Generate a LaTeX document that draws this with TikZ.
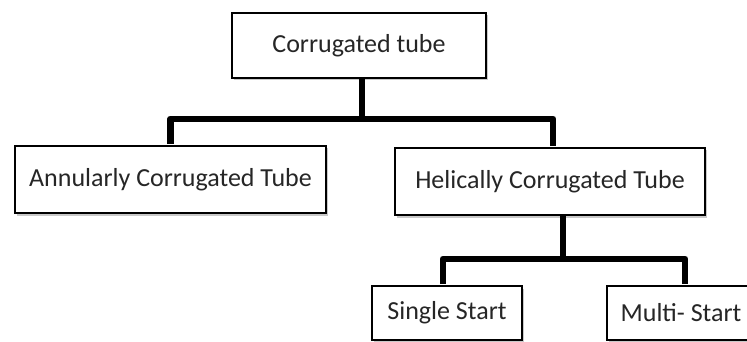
\documentclass[tikz,border=0pt]{standalone}
\usepackage{fontspec}
\setmainfont{Carlito}
\usetikzlibrary{shadows}
\begin{document}
\begin{tikzpicture}[x=1pt,y=-1pt,
  box/.style={draw=black,line width=1.6pt,fill=white,rectangle,inner sep=0pt,
    font=\fontsize{26}{30}\selectfont,text=black!85,
    drop shadow={shadow xshift=2pt,shadow yshift=-2.5pt,opacity=0.35,fill=black!60}},
  conn/.style={line width=6.5pt,line join=round,draw=black}]
\clip (0,0) rectangle (747,342);
\fill[white] (0,0) rectangle (747,342);
\node[box,minimum width=254pt,minimum height=65pt] (top) at (359,45.5) {Corrugated tube};
\node[box,minimum width=311pt,minimum height=67pt] (left) at (170.5,179.5) {Annularly Corrugated Tube};
\node[box,minimum width=310pt,minimum height=67pt] (right) at (550,181.5) {Helically Corrugated Tube};
\node[box,minimum width=150pt,minimum height=54pt] (single) at (447,313) {Single Start};
\node[box,minimum width=148pt,minimum height=54pt] (multi) at (681,313) {Multi- Start};
\draw[conn] ([xshift=3pt]top.south) -- ++(0,40) coordinate (j1);
\draw[conn] ([yshift=1pt]left.north) |- (j1) -| ([xshift=3pt,yshift=1pt]right.north);
\draw[conn] ([xshift=13pt]right.south) -- ++(0,43) coordinate (j2);
\draw[conn] ([xshift=-4pt,yshift=1pt]single.north) |- (j2) -| ([xshift=4pt,yshift=1pt]multi.north);
\end{tikzpicture}
\end{document}
